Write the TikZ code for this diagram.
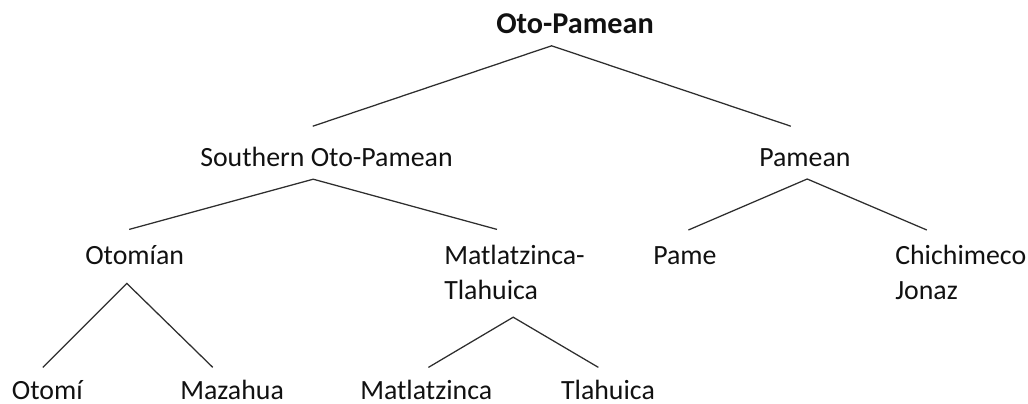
\documentclass[tikz,border=0pt]{standalone}
\usepackage{fontspec}
\setmainfont{Carlito}
\definecolor{ink}    {HTML}{111111}
\definecolor{branchc}{HTML}{2E2E2E}
\tikzset{
  lang/.style   = {font=\fontsize{19.8}{24.9}\selectfont, text=ink,
                   inner sep=0pt, anchor=base west, align=left},
  family/.style = {lang, font=\fontsize{21.5}{25}\selectfont\bfseries},
  branch/.style = {draw=branchc, line width=0.9pt},
}

\begin{document}
\begin{tikzpicture}
  \useasboundingbox (0,0) rectangle (25.7,10.075);

  % top level
  \node[family] (otopam) at (12.4,9.24) {Oto-Pamean};

  % second level
  \node[lang] (southern) at (5.0,5.92)   {Southern Oto-Pamean};
  \node[lang] (pamean)   at (18.975,5.92) {Pamean};

  % third level (two-line nodes sit on their last line)
  \node[lang] (otomian) at (2.125,3.45)  {Otomían};
  \node[lang] (matla)   at (11.1,2.575)  {Matlatzinca-\\Tlahuica};
  \node[lang] (pame)    at (16.325,3.45) {Pame};
  \node[lang] (chichi)  at (22.375,2.575) {Chichimeco\\Jonaz};

  % leaves
  \node[lang] (otomi)    at (0.29,0.1)  {Otomí};
  \node[lang] (mazahua)  at (4.5,0.1)   {Mazahua};
  \node[lang] (matlatz)  at (9.0,0.1)   {Matlatzinca};
  \node[lang] (tlahuica) at (14.02,0.1) {Tlahuica};

  % branches
  \draw[branch] ([xshift=2.82cm,yshift=1.0cm]southern.base west)
    -- ([xshift=1.39cm,yshift=-0.31cm]otopam.base west)
    -- ([xshift=0.795cm,yshift=1.0cm]pamean.base west);
  \draw[branch] ([xshift=1.105cm,yshift=0.89cm]otomian.base west)
    -- ([xshift=2.83cm,yshift=-0.325cm]southern.base west)
    -- ([xshift=1.325cm,yshift=1.765cm]matla.base west);
  \draw[branch] ([xshift=0.885cm,yshift=0.875cm]pame.base west)
    -- ([xshift=1.205cm,yshift=-0.32cm]pamean.base west)
    -- ([xshift=0.795cm,yshift=1.75cm]chichi.base west);
  \draw[branch] ([xshift=0.78cm,yshift=0.79cm]otomi.base west)
    -- ([xshift=1.045cm,yshift=-0.46cm]otomian.base west)
    -- ([xshift=0.82cm,yshift=0.79cm]mazahua.base west);
  \draw[branch] ([xshift=1.71cm,yshift=0.79cm]matlatz.base west)
    -- ([xshift=1.73cm,yshift=-0.43cm]matla.base west)
    -- ([xshift=0.94cm,yshift=0.79cm]tlahuica.base west);
\end{tikzpicture}
\end{document}
